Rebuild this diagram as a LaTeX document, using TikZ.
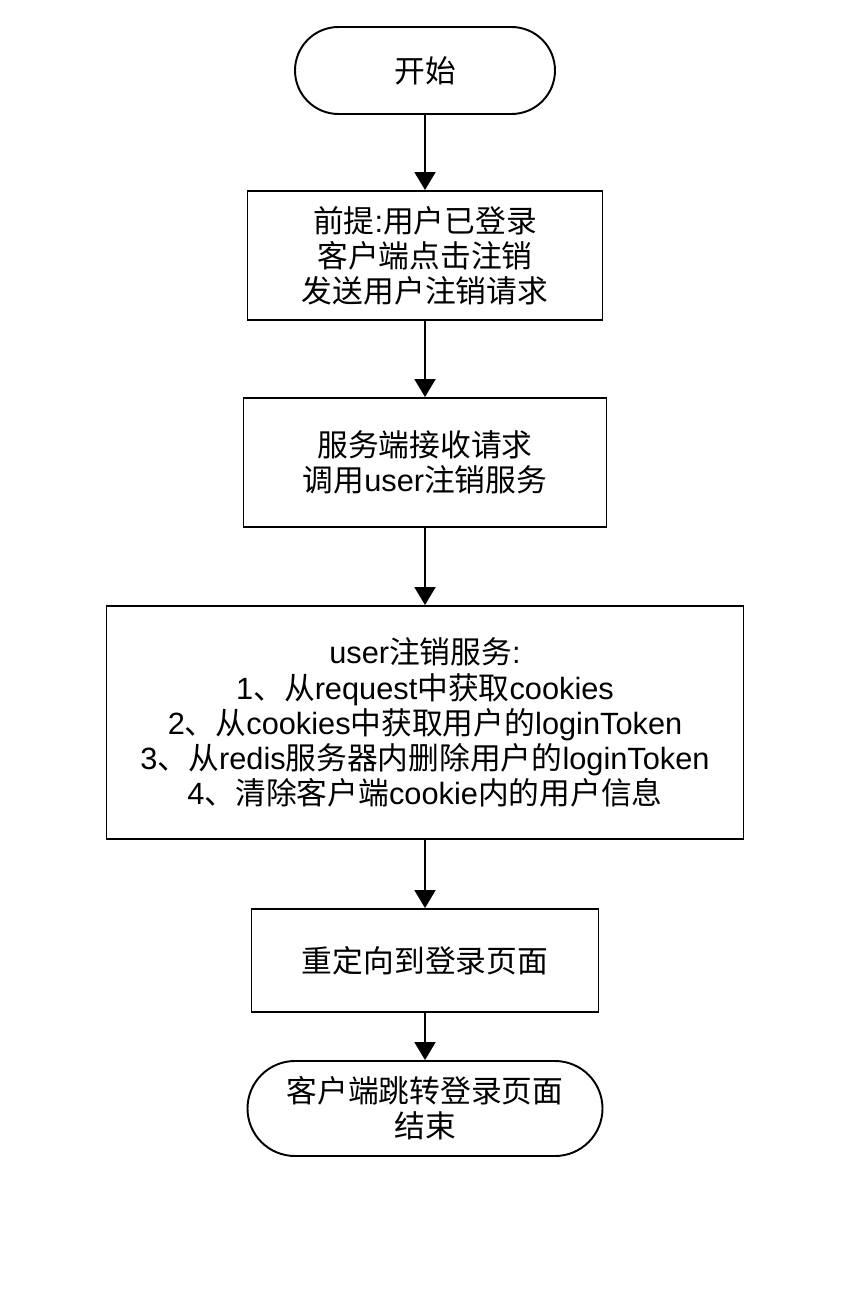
\documentclass[tikz,border=0pt]{standalone}
\usepackage{fontspec}
\setmainfont{Liberation Sans}
\newfontfamily\cjk{Noto Sans CJK SC}
\newcommand{\zh}[1]{{\cjk #1}}
\usetikzlibrary{arrows.meta}

\tikzset{
  flowbox/.style={draw, line width=1.1pt, align=center, inner sep=0pt,
    font=\fontsize{17.5}{20}\selectfont},
  termbox/.style={flowbox, rounded corners=#1},
  flowarrow/.style={draw, line width=1.1pt, -{Triangle[length=0.36cm, width=0.42cm]}}
}

\begin{document}
\begin{tikzpicture}
  \useasboundingbox (0cm,0cm) rectangle (17.32cm,-25.98cm);
  \node[termbox=0.87cm, minimum width=5.2cm, minimum height=1.74cm] (start) at (8.5cm,-1.41cm) {\zh{开始}};
  \node[flowbox, minimum width=7.1cm, minimum height=2.58cm] (premise) at (8.5cm,-5.11cm)
    {\zh{前提}:\zh{用户已登录}\\\zh{客户端点击注销}\\\zh{发送用户注销请求}};
  \node[flowbox, minimum width=7.26cm, minimum height=2.58cm] (receive) at (8.5cm,-9.25cm)
    {\zh{服务端接收请求}\\\zh{调用}user\zh{注销服务}};
  \node[flowbox, minimum width=12.74cm, minimum height=4.66cm] (logout) at (8.5cm,-14.45cm)
    {user\zh{注销服务}:\\
     1\zh{、从}request\zh{中获取}cookies\\
     2\zh{、从}cookies\zh{中获取用户的}loginToken\\
     3\zh{、从}redis\zh{服务器内删除用户的}loginToken\\
     4\zh{、清除客户端}cookie\zh{内的用户信息}};
  \node[flowbox, minimum width=6.94cm, minimum height=2.06cm] (redirect) at (8.5cm,-19.21cm)
    {\zh{重定向到登录页面}};
  \node[termbox=0.95cm, minimum width=7.1cm, minimum height=1.9cm] (finish) at (8.5cm,-22.17cm)
    {\zh{客户端跳转登录页面}\\\zh{结束}};

  \draw[flowarrow] (start) -- (premise);
  \draw[flowarrow] (premise) -- (receive);
  \draw[flowarrow] (receive) -- (logout);
  \draw[flowarrow] (logout) -- (redirect);
  \draw[flowarrow] (redirect) -- (finish);
\end{tikzpicture}
\end{document}
